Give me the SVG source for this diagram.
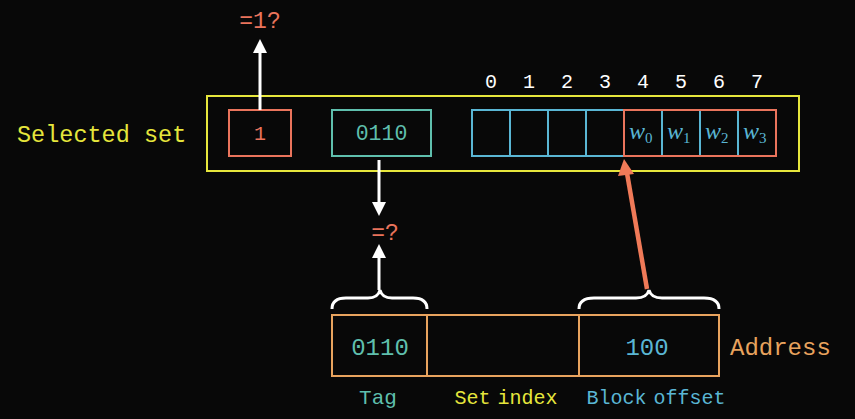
<svg xmlns="http://www.w3.org/2000/svg" width="855" height="419" viewBox="0 0 855 419">
  <style>
    .mono { font-family: "Liberation Mono", "DejaVu Sans Mono", monospace; }
    .yellow { fill: #e6e63c; }
    .red { fill: #ea745c; }
    .teal { fill: #5fbfad; }
    .blue { fill: #5ab6d4; }
    .gold { fill: #e8a35e; }
    .white { fill: #ffffff; }
    .box { fill: none; stroke-width: 2; }
    .w { font-family: "Liberation Serif", "DejaVu Serif", serif; font-style: italic; font-size: 24px; fill: #5ab6d4; }
    .sub { font-family: "Liberation Serif", "DejaVu Serif", serif; font-style: normal; font-size: 15px; }
  </style>
  <rect width="855" height="419" fill="#080808"/>

  <!-- selected set -->
  <g id="selected-set">
    <text class="mono yellow" x="17" y="142" font-size="23.5">Selected set</text>
    <rect class="box" x="207" y="96" width="592" height="75" stroke="#e6e63c"/>
  </g>

  <g id="valid-bit">
    <rect class="box" x="229" y="110" width="62" height="46" stroke="#ea745c"/>
    <text class="mono red" x="260" y="140" font-size="20" text-anchor="middle">1</text>
  </g>

  <g id="set-tag">
    <rect class="box" x="332" y="110" width="99" height="46" stroke="#5fbfad"/>
    <text class="mono teal" x="381.5" y="140" font-size="21.5" text-anchor="middle">0110</text>
  </g>

  <g id="block">
    <g class="mono white" font-size="20" text-anchor="middle">
      <text x="491" y="88">0</text>
      <text x="529" y="88">1</text>
      <text x="567" y="88">2</text>
      <text x="605" y="88">3</text>
      <text x="643" y="88">4</text>
      <text x="681" y="88">5</text>
      <text x="719" y="88">6</text>
      <text x="757" y="88">7</text>
    </g>
    <g stroke="#5ab6d4" stroke-width="2" fill="none">
      <rect x="472" y="110" width="152" height="46"/>
      <line x1="510" y1="110" x2="510" y2="156"/>
      <line x1="548" y1="110" x2="548" y2="156"/>
      <line x1="586" y1="110" x2="586" y2="156"/>
      <line x1="662" y1="110" x2="662" y2="156"/>
      <line x1="700" y1="110" x2="700" y2="156"/>
      <line x1="738" y1="110" x2="738" y2="156"/>
    </g>
    <rect class="box" x="624" y="110" width="152" height="46" stroke="#ea745c"/>
    <text class="w" x="629" y="139">w<tspan class="sub" dy="4">0</tspan></text>
    <text class="w" x="667" y="139">w<tspan class="sub" dy="4">1</tspan></text>
    <text class="w" x="705" y="139">w<tspan class="sub" dy="4">2</tspan></text>
    <text class="w" x="743" y="139">w<tspan class="sub" dy="4">3</tspan></text>
  </g>

  <g id="valid-check">
    <text class="mono red" x="260" y="28" font-size="23" text-anchor="middle">=1?</text>
  </g>

  <g id="tag-compare">
    <text class="mono red" x="385" y="240" font-size="23" text-anchor="middle">=?</text>
  </g>

  <!-- address -->
  <g id="address">
    <rect class="box" x="332" y="315" width="387" height="61" stroke="#e8a35e"/>
    <line x1="427" y1="315" x2="427" y2="376" stroke="#e8a35e" stroke-width="2"/>
    <line x1="579" y1="315" x2="579" y2="376" stroke="#e8a35e" stroke-width="2"/>
    <text class="mono teal" x="380" y="355" font-size="24" text-anchor="middle">0110</text>
    <text class="mono blue" x="647" y="355" font-size="24" text-anchor="middle">100</text>
    <text class="mono gold" x="730" y="355" font-size="24">Address</text>
  </g>

  <g id="field-labels">
    <text class="mono teal" x="378" y="404" font-size="21" text-anchor="middle">Tag</text>
    <text class="mono yellow" x="506" y="404" font-size="20" text-anchor="middle" word-spacing="-5">Set index</text>
    <text class="mono blue" x="656" y="404" font-size="20" text-anchor="middle" word-spacing="-5">Block offset</text>
  </g>

  <!-- connectors -->
  <g id="connectors" fill="none">
    <line x1="260" y1="110" x2="260" y2="52" stroke="#ffffff" stroke-width="3"/>
    <path d="M253,53 L260,39 L267,53 Z" fill="#ffffff"/>

    <line x1="379" y1="160" x2="379" y2="204" stroke="#ffffff" stroke-width="3"/>
    <path d="M372,202 L379,216 L386,202 Z" fill="#ffffff"/>

    <line x1="379" y1="290" x2="379" y2="256" stroke="#ffffff" stroke-width="3"/>
    <path d="M372,258 L379,244 L386,258 Z" fill="#ffffff"/>

    <path d="M332,309 Q332,298 346,298 L368,298 Q378,298 380,290 Q382,298 392,298 L413,298 Q427,298 427,309" stroke="#ffffff" stroke-width="3"/>
    <path d="M579,309 Q579,298 594,298 L636,298 Q647,298 649,290 Q651,298 662,298 L704,298 Q719,298 719,309" stroke="#ffffff" stroke-width="3"/>

    <line x1="647" y1="289" x2="627" y2="173" stroke="#f07a58" stroke-width="4.5"/>
    <path d="M618,176 L624,159 L634,174 Z" fill="#f07a58"/>
  </g>
</svg>
